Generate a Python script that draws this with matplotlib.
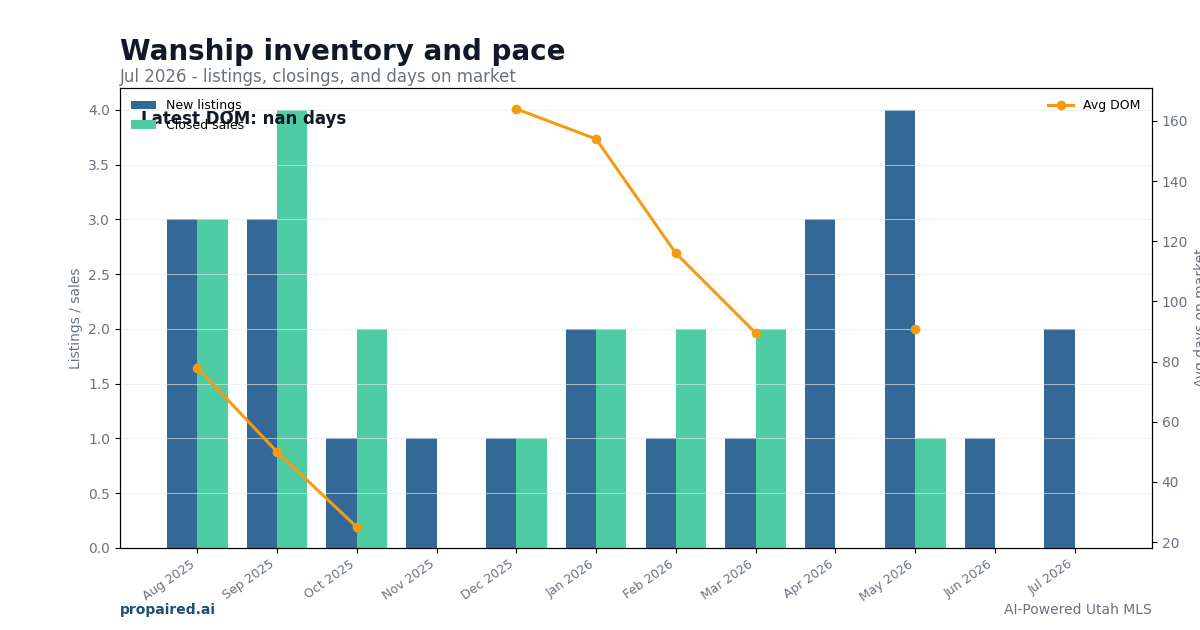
import numpy as np
import matplotlib
matplotlib.use('Agg')
import matplotlib.pyplot as plt

months = ['Aug 2025', 'Sep 2025', 'Oct 2025', 'Nov 2025', 'Dec 2025', 'Jan 2026',
          'Feb 2026', 'Mar 2026', 'Apr 2026', 'May 2026', 'Jun 2026', 'Jul 2026']
new_listings = [3, 3, 1, 1, 1, 2, 1, 1, 3, 4, 1, 2]
closed_sales = [3, 4, 2, 0, 1, 2, 2, 2, 0, 1, 0, 0]
avg_dom = [78, 50, 25, np.nan, 164, 154, 116, 89.5, np.nan, 91, np.nan, np.nan]

gray = '#6b7280'
c_new = '#336897'
c_closed = '#4ecca3'
c_dom = '#f39c12'

fig = plt.figure(figsize=(12, 6.3), dpi=100)
ax = fig.add_axes([0.1, 0.1302, 0.86, 0.7301])

x = np.arange(len(months))
w = 0.38
ax.bar(x - w / 2, new_listings, w, color=c_new, label='New listings')
ax.bar(x + w / 2, closed_sales, w, color=c_closed, label='Closed sales')

# grid sits on top of the bars, faint
ax.set_axisbelow(False)
ax.grid(axis='y', color='#e5e7eb', alpha=0.6, linewidth=0.8)

ax.set_xticks(x)
ax.set_xticklabels(months, rotation=35, ha='right', fontsize=9, color=gray)
ax.tick_params(axis='y', labelsize=10, labelcolor=gray)
ax.set_ylabel('Listings / sales', color=gray, fontsize=10)

ax2 = ax.twinx()
ax2.plot(x, avg_dom, '-o', color=c_dom, linewidth=2.2, markersize=6, label='Avg DOM')
ax2.tick_params(axis='y', labelsize=10, labelcolor=gray)
ax2.set_ylabel('Avg days on market', color=gray, fontsize=10)

ax.legend(loc='upper left', frameon=False, fontsize=9)
ax2.legend(loc='upper right', frameon=False, fontsize=9)

ax.text(0.02, 0.933, 'Latest DOM: nan days', transform=ax.transAxes,
        fontsize=12, fontweight='bold', color='#111827', va='center')

fig.text(0.1, 0.917, 'Wanship inventory and pace', fontsize=20, fontweight='bold',
         color='#111827', va='center')
fig.text(0.1, 0.877, 'Jul 2026 - listings, closings, and days on market', fontsize=12,
         color=gray, va='center')
fig.text(0.1, 0.032, 'propaired.ai', fontsize=10, fontweight='bold', color='#1f4e79', va='center')
fig.text(0.96, 0.032, 'AI-Powered Utah MLS', fontsize=10, color=gray, va='center', ha='right')

fig.savefig('out.png', dpi=100)
